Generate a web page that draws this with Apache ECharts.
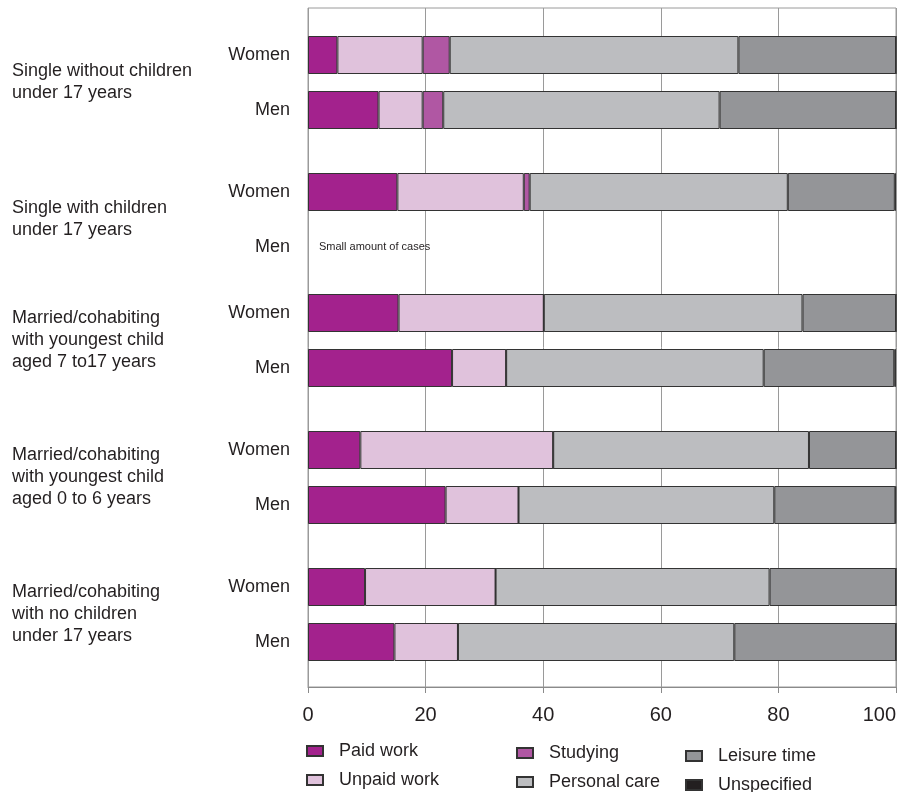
<!DOCTYPE html>
<html>
<head>
<meta charset="utf-8">
<script src="https://cdn.jsdelivr.net/npm/echarts@6/dist/echarts.min.js"></script>
<style>html,body{margin:0;padding:0;background:#fff}#c{width:900px;height:792px}</style>
</head>
<body>
<div id="c"></div>
<script>
// ---- data ----
const groupLabels = [
  'Single without children\nunder 17 years',
  'Single with children\nunder 17 years',
  'Married/cohabiting\nwith youngest child\naged 7 to17 years',
  'Married/cohabiting\nwith youngest child\naged 0 to 6 years',
  'Married/cohabiting\nwith no children\nunder 17 years'
];
const sexes = ['Women', 'Men'];
const seriesNames = ['Paid work', 'Unpaid work', 'Studying', 'Personal care', 'Leisure time', 'Unspecified'];
// rows: G1 W, G1 M, G2 W, G2 M, G3 W, G3 M, G4 W, G4 M, G5 W, G5 M
const paidWork     = [5.0, 12.0, 15.2, null, 15.4, 24.5, 8.9, 23.4, 9.7, 14.7];
const unpaidWork   = [14.5, 7.5, 21.5, null, 24.7, 9.2, 32.8, 12.4, 22.2, 10.8];
const studying     = [4.6, 3.5, 1.0, null, 0, 0, 0, 0, 0, 0];
const personalCare = [49.1, 47.0, 43.9, null, 44.0, 43.8, 43.5, 43.5, 46.6, 47.0];
const leisureTime  = [26.8, 30.0, 18.2, null, 15.9, 22.2, 14.8, 20.6, 21.5, 27.5];
const unspecified  = [0, 0, 0.2, null, 0, 0.3, 0, 0.1, 0, 0];
const rowNotes     = [null, null, null, 'Small amount of cases', null, null, null, null, null, null];
const xTicks = [0, 20, 40, 60, 80, 100];

// ---- styles / layout ----
const colors = ['#a3228d', '#e0c2dc', '#b057a3', '#bcbdc0', '#949598', '#231f20'];
const FONT = "'Liberation Sans', Arial, sans-serif";
const TXT = '#231f20';
const groupCenters = [82.5, 219.5, 340.5, 477.5, 614.5];
const labelShift = [5.5, 5, 22, 21.5, 21.5];
const rowPitch = 55;
const plotLeft = 308, plotRight = 4, plotTop = 8, plotBottomY = 687;

const allValues = [paidWork, unpaidWork, studying, personalCare, leisureTime, unspecified];

const grids = [], xAxes = [], yAxes = [], series = [];
groupLabels.forEach((lab, g) => {
  grids.push({left: plotLeft, right: plotRight, top: groupCenters[g] - rowPitch, height: rowPitch * 2,
    containLabel: false, outerBoundsMode: 'none'});
  xAxes.push({gridIndex: g, type: 'value', min: 0, max: 100, show: false});
  yAxes.push({
    gridIndex: g, type: 'category', data: sexes, inverse: true,
    axisLine: {show: false}, axisTick: {show: false}, splitLine: {show: false},
    axisLabel: {fontSize: 18, color: TXT, fontFamily: FONT, margin: 18},
    name: lab, nameLocation: 'middle', nameRotate: 0, nameGap: 296, nameMoveOverlap: false,
    nameTextStyle: {fontSize: 18, color: TXT, fontFamily: FONT, align: 'left', verticalAlign: 'middle',
      lineHeight: 22, padding: [0, 0, labelShift[g] * 2, 0]}
  });
  seriesNames.forEach((nm, s) => {
    const data = [0, 1].map(r => {
      const idx = g * 2 + r;
      const v = allValues[s][idx];
      if (s === 0 && rowNotes[idx]) {
        return {value: 0, itemStyle: {borderWidth: 0},
          label: {show: true, position: 'right', distance: 11, formatter: rowNotes[idx],
            fontSize: 11, color: TXT, fontFamily: FONT}};
      }
      return v === null ? '-' : v;
    });
    series.push({
      type: 'bar', name: nm, stack: 'g' + g, xAxisIndex: g, yAxisIndex: g,
      barWidth: 38, data: data, silent: true,
      itemStyle: {color: colors[s], borderColor: '#333', borderWidth: 1}
    });
  });
});

// background grid with axis, split lines, border
const bg = groupLabels.length;
grids.push({left: plotLeft, right: plotRight, top: plotTop, bottom: 792 - plotBottomY,
  containLabel: false, outerBoundsMode: 'none',
  show: true, borderColor: '#9a9a9a', borderWidth: 1, z: 0});
xAxes.push({gridIndex: bg, type: 'value', min: xTicks[0], max: xTicks[xTicks.length - 1],
  interval: xTicks[1] - xTicks[0],
  axisLine: {show: true, lineStyle: {color: '#8a8a8a', width: 1}},
  axisTick: {show: true, length: 6, inside: false, lineStyle: {color: '#8a8a8a'}},
  splitLine: {show: true, lineStyle: {color: '#9a9a9a', width: 1}},
  axisLabel: {fontSize: 20, color: TXT, fontFamily: FONT, margin: 18, alignMaxLabel: 'right'}
});
yAxes.push({gridIndex: bg, type: 'value', show: false});

function legend(names, left, top) {
  return {
    data: names, orient: 'vertical', left: left, top: top, padding: 0, height: 60,
    itemWidth: 16, itemHeight: 10, itemGap: 11, icon: 'rect', selectedMode: false,
    textStyle: {fontSize: 18, color: TXT, fontFamily: FONT, lineHeight: 14, padding: [0, 0, 0, 11]}
  };
}

const chart = echarts.init(document.getElementById('c'), null, {renderer: 'canvas'});
chart.setOption({
  animation: false,
  grid: grids, xAxis: xAxes, yAxis: yAxes, series: series,
  legend: [
    legend(['Paid work', 'Unpaid work'], 306, 742),
    legend(['Studying', 'Personal care'], 516, 744),
    legend(['Leisure time', 'Unspecified'], 685, 747)
  ]
});
</script>
</body>
</html>
